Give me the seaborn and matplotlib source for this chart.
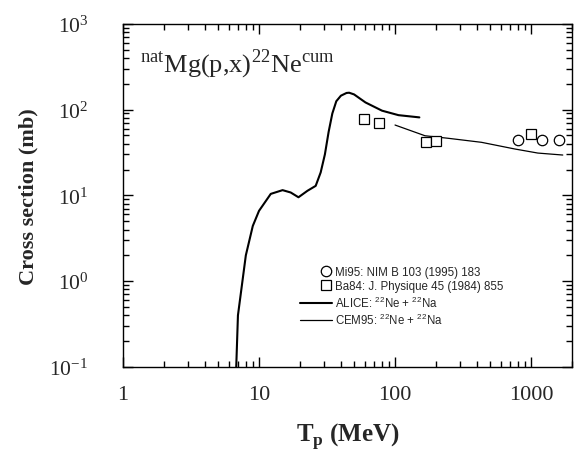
import numpy as np
import pandas as pd
import matplotlib
matplotlib.use("Agg")
import matplotlib.pyplot as plt
from matplotlib.ticker import LogLocator, NullFormatter, FuncFormatter
from matplotlib.legend_handler import HandlerLine2D
import seaborn as sns

# Data
alice_e = [6.8, 7.0, 8.0, 9.0, 10.0, 12.2, 14.9, 17.1, 19.5, 22.7, 26.1, 28.4,
           30.5, 32.5, 34.6, 37.0, 40.0, 44.0, 46.0, 50.0, 60.6, 80.2, 106, 151]
alice_xs = [0.1, 0.4, 2.0, 4.4, 6.6, 10.4, 11.5, 10.8, 9.5, 11.3, 12.9, 18.5,
            30.0, 55.0, 90.0, 125, 145, 156, 157, 150, 121, 97, 86, 81]
cem_e = [100, 166, 247, 432, 759, 1122, 1711]
cem_xs = [66, 49.5, 46.2, 41.5, 34.7, 31.1, 29.5]
ba84_e = [59.6, 75.9, 169, 200, 1000]
ba84_xs = [77.5, 69.6, 41.5, 42.6, 51.8]
ba84_err = [6, 6, 4, 4, 5]
mi95_e = [802, 1208, 1600]
mi95_xs = [44, 44, 44]


class RightMarker(HandlerLine2D):
    # put the single legend marker near the right end of the handle
    def create_artists(self, legend, orig_handle, xdescent, ydescent, width,
                       height, fontsize, trans):
        artists = super().create_artists(legend, orig_handle, xdescent, ydescent,
                                         width, height, fontsize, trans)
        x = np.asarray(artists[0].get_xdata(), dtype=float)
        if len(x) == 3:
            x[1] = x[2] - 0.55 * fontsize
            artists[0].set_xdata(x)
        return artists


sns.set_style("ticks")
plt.rcParams['font.family'] = ['Liberation Serif', 'DejaVu Serif']
plt.rcParams['mathtext.fontset'] = 'custom'
plt.rcParams['mathtext.rm'] = 'Liberation Serif'
plt.rcParams['mathtext.bf'] = 'Liberation Serif:bold'
plt.rcParams['mathtext.sf'] = 'Liberation Sans'

fig = plt.figure(figsize=(5.81, 4.56), dpi=100)
ax = fig.add_axes([0.2117, 0.193, 0.7728, 0.7528])

alice = pd.DataFrame({"e": alice_e, "xs": alice_xs})
cem = pd.DataFrame({"e": cem_e, "xs": cem_xs})

sns.lineplot(data=alice, x="e", y="xs", ax=ax, color="black", lw=1.5,
             estimator=None, label=r"ALICE: $^{\mathsf{22}}$Ne + $^{\mathsf{22}}$Na")
sns.lineplot(data=cem, x="e", y="xs", ax=ax, color="black", lw=0.9,
             estimator=None, label=r"CEM95: $^{\mathsf{22}}$Ne + $^{\mathsf{22}}$Na")
ax.errorbar(ba84_e, ba84_xs, yerr=ba84_err, fmt="none", ecolor="black", elinewidth=0.8)
mi_line, = ax.plot(mi95_e, mi95_xs, ls="none", marker="o", ms=7.5, mfc="white",
                   mec="black", mew=0.9, label="Mi95: NIM B 103 (1995) 183")
ba_line, = ax.plot(ba84_e, ba84_xs, ls="none", marker="s", ms=6.5, mfc="white",
                   mec="black", mew=0.9, label="Ba84: J. Physique 45 (1984) 855")

ax.set_xscale("log")
ax.set_yscale("log")
ax.set_xlim(1, 2000)
ax.set_ylim(0.1, 1000)
ax.xaxis.set_major_formatter(FuncFormatter(lambda v, p: f"{v:g}"))
for axis in (ax.xaxis, ax.yaxis):
    axis.set_minor_locator(LogLocator(base=10, subs=np.arange(2, 10), numticks=100))
    axis.set_minor_formatter(NullFormatter())

for s in ax.spines.values():
    s.set_linewidth(1.0)
    s.set_color("black")
ax.tick_params(which="both", direction="in", top=True, right=True, bottom=True,
               left=True, width=1.0, color="black")
ax.tick_params(which="major", length=7)
ax.tick_params(which="minor", length=4)
ax.tick_params(axis="x", which="major", labelsize=16, pad=13)
ax.tick_params(axis="y", which="major", labelsize=15.5, pad=25)

ax.set_xlabel(r"T$_{\mathbf{p}}$ (MeV)", fontsize=18, fontweight="bold", labelpad=12)
ax.set_ylabel("Cross section (mb)", fontsize=16, fontweight="bold", labelpad=8)

ax.text(0.038, 0.862, r"$^{\mathrm{nat}}$Mg(p,x)$^{\mathrm{22}}$Ne$^{\mathrm{cum}}$",
        transform=ax.transAxes, fontsize=19, va="baseline", ha="left")

h, l = ax.get_legend_handles_labels()
order = [2, 3, 0, 1]
ax.legend([h[i] for i in order], [l[i] for i in order], loc="upper left",
          bbox_to_anchor=(0.394, 0.294), frameon=False, numpoints=1,
          handlelength=2.8, handletextpad=0.25, borderpad=0, borderaxespad=0,
          labelspacing=0.2, prop={"family": "Liberation Sans", "size": 8.3},
          handler_map={mi_line: RightMarker(), ba_line: RightMarker()})

fig.savefig("out.png", dpi=100)
